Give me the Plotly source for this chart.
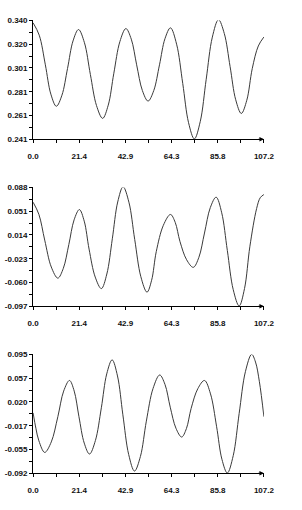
import numpy as np
import plotly.graph_objects as go

# ---- data ----
x1 = [0, 2.85, 5.7, 8.25, 10.8, 13.4, 16.0, 18.55, 21.1, 23.85, 26.6, 29.45, 32.3, 34.9, 37.5,
      40.3, 43.1, 45.6, 48.1, 50.75, 53.4, 56.05, 58.7, 61.25, 63.8, 66.65, 69.5, 72.2, 74.9,
      77.65, 80.4, 83.25, 86.1, 88.8, 91.5, 94.1, 96.7, 99.25, 101.8, 104.6, 107.2]
y1 = [0.338, 0.3277, 0.303, 0.2786, 0.2685, 0.2777, 0.300, 0.3229, 0.3324, 0.3214, 0.295,
      0.2691, 0.2584, 0.2694, 0.296, 0.3223, 0.3332, 0.3244, 0.303, 0.2816, 0.2728, 0.2816,
      0.303, 0.3248, 0.3338, 0.3202, 0.2875, 0.2548, 0.2413, 0.2559, 0.291, 0.3261, 0.3406,
      0.3291, 0.3015, 0.2739, 0.2625, 0.2735, 0.300, 0.3187, 0.3262]

x2 = [0, 2.7, 5.4, 8.45, 11.5, 14.05, 16.6, 19.05, 21.5, 23.75, 26.0, 28.85, 31.7, 34.25, 36.8,
      39.3, 41.8, 44.5, 47.2, 50.05, 52.9, 55.05, 57.2, 60.5, 63.8, 66.0, 68.2, 71.3, 74.4,
      77.0, 79.6, 82.3, 85.0, 87.6, 90.2, 92.95, 95.7, 98.2, 100.7, 103.8, 105.5, 107.2]
y2 = [0.065, 0.046, 0.006, -0.0359, -0.0532, -0.0379, -0.001, 0.0375, 0.0535, 0.0355, -0.008,
      -0.0515, -0.0695, -0.0468, 0.008, 0.0653, 0.089, 0.065, 0.007, -0.051, -0.075, -0.0565,
      -0.012, 0.029, 0.0459, 0.0336, 0.004, -0.0246, -0.0364, -0.0208, 0.017, 0.0565, 0.0728,
      0.0485, -0.010, -0.0712, -0.0965, -0.0693, -0.0035, 0.055, 0.072, 0.0769]

x3 = [0, 1.35, 2.7, 5.4, 8.45, 11.5, 14.2, 16.9, 19.1, 21.3, 23.75, 26.2, 28.95, 31.7, 34.2,
      36.7, 39.2, 41.7, 44.4, 47.1, 49.85, 52.6, 55.7, 58.8, 61.25, 63.7, 66.35, 69.0, 71.2,
      73.4, 76.5, 79.6, 82.4, 85.2, 87.7, 90.2, 92.95, 95.7, 98.6, 101.5, 103.3, 105.1, 107.2]
y3 = [0.003, -0.022, -0.041, -0.0592, -0.0427, -0.003, 0.0373, 0.054, 0.0373, -0.003, -0.0445,
      -0.0617, -0.0404, 0.011, 0.0643, 0.0864, 0.0611, 0.0, -0.0626, -0.0885, -0.0655, -0.010,
      0.0413, 0.0626, 0.0478, 0.012, -0.0212, -0.035, -0.0218, 0.010, 0.0411, 0.054, 0.0329,
      -0.018, -0.070, -0.0916, -0.0642, 0.002, 0.0678, 0.0951, 0.083, 0.052, -0.003]

x_ticklabels = ["0.0", "21.4", "42.9", "64.3", "85.8", "107.2"]
y1_ticklabels = ["0.241", "0.261", "0.281", "0.301", "0.320", "0.340"]
y2_ticklabels = ["-0.097", "-0.060", "-0.023", "0.014", "0.051", "0.088"]
y3_ticklabels = ["-0.092", "-0.055", "-0.017", "0.020", "0.057", "0.095"]

# ---- layout ----
W, H = 302, 510
xmin, xmax = 0.0, 107.2
panels = [
    (x1, y1, y1_ticklabels, 0.241, 0.340, 16.7, 137.7),
    (x2, y2, y2_ticklabels, -0.097, 0.088, 186.7, 307.7),
    (x3, y3, y3_ticklabels, -0.092, 0.095, 356.7, 477.7),
]
xdom = [28.7 / W, 273.3 / W]
font = dict(family="Liberation Sans", size=8, color="#111", weight="bold")

xt = np.linspace(xmin, xmax, 6)
xminor = (xt[:-1] + xt[1:]) / 2

fig = go.Figure()
layout = dict(width=W, height=H, margin=dict(l=0, r=0, t=0, b=0),
              paper_bgcolor="white", plot_bgcolor="white", showlegend=False)
annotations = []

for i, (xs, ys, ylabels, ylo, yhi, ptop, pbot) in enumerate(panels, start=1):
    sfx = "" if i == 1 else str(i)
    fig.add_trace(go.Scatter(x=xs, y=ys, mode="lines",
                             line=dict(color="#3a3a3a", width=1, shape="spline", smoothing=1.0),
                             xaxis="x" + sfx, yaxis="y" + sfx, hoverinfo="skip"))
    ydom = [1 - pbot / H, 1 - ptop / H]
    yt = np.linspace(ylo, yhi, 6)
    yminor = (yt[:-1] + yt[1:]) / 2
    common_x = dict(range=[xmin, xmax], domain=xdom, showgrid=False, zeroline=False,
                    tickmode="array", tickvals=list(xt), ticklen=3, tickcolor="black", tickwidth=1,
                    minor=dict(tickmode="array", tickvals=list(xminor), ticklen=3, tickcolor="black",
                               tickwidth=1, showgrid=False))
    common_y = dict(range=[ylo, yhi], domain=ydom, showgrid=False, zeroline=False,
                    tickmode="array", tickvals=list(yt), ticklen=3, tickcolor="black", tickwidth=1,
                    minor=dict(tickmode="array", tickvals=list(yminor), ticklen=3, tickcolor="black",
                               tickwidth=1, showgrid=False))
    layout["xaxis" + sfx] = dict(common_x, anchor="y" + sfx, ticks="outside", ticktext=x_ticklabels,
                                 showline=True, linecolor="black", linewidth=1, tickfont=font,
                                 ticklabelstandoff=6)
    layout["xaxis" + sfx]["minor"] = dict(common_x["minor"], ticks="outside")
    layout["yaxis" + sfx] = dict(common_y, anchor="x" + sfx, ticks="outside", ticktext=ylabels,
                                 showline=True, linecolor="black", linewidth=1, tickfont=font)
    layout["yaxis" + sfx]["minor"] = dict(common_y["minor"], ticks="outside")
    # overlay axes giving the crossing (inside) half of each tick
    j = str(i + 3)
    layout["xaxis" + j] = dict(common_x, anchor="y" + sfx, overlaying="x" + sfx, ticks="inside",
                               showticklabels=False, showline=False)
    layout["xaxis" + j]["minor"] = dict(common_x["minor"], ticks="inside")
    layout["yaxis" + j] = dict(common_y, anchor="x" + sfx, overlaying="y" + sfx, ticks="inside",
                               showticklabels=False, showline=False, side="left")
    layout["yaxis" + j]["minor"] = dict(common_y["minor"], ticks="inside")
    annotations.append(dict(x=xmax, y=ylo, xref="x" + sfx, yref="y" + sfx, text="", showarrow=True,
                            ax=-7, ay=0, arrowhead=2, arrowsize=0.9, arrowwidth=1, arrowcolor="black",
                            standoff=0))

layout["annotations"] = annotations
fig.update_layout(**layout)
fig.write_html("out.html")
